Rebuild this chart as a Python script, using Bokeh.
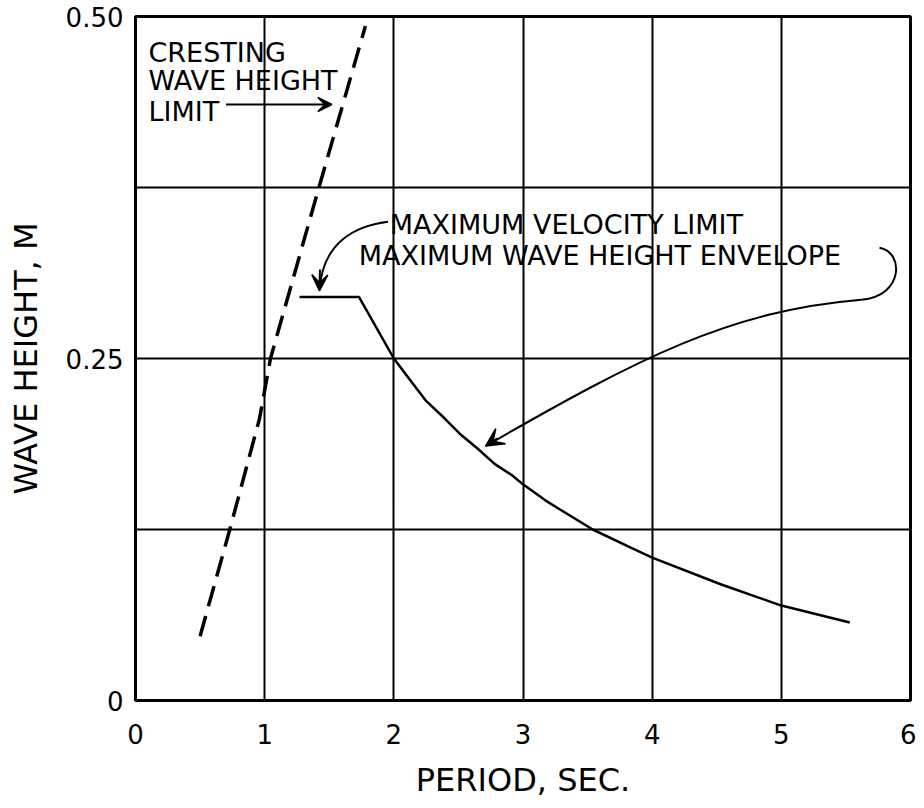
from bokeh.plotting import figure
from bokeh.models import Range1d, FixedTicker, Label, Arrow, VeeHead
from bokeh.embed import file_html
from bokeh.resources import INLINE

# ---- data ----
envelope_period = [1.27, 1.73, 2.0, 2.12, 2.25, 2.39, 2.51, 2.65, 2.78, 2.91, 3.0,
                   3.17, 3.28, 3.54, 3.83, 4.0, 4.53, 5.0, 5.53]
envelope_height = [0.295, 0.295, 0.250, 0.235, 0.219, 0.2065, 0.195, 0.184, 0.173, 0.165, 0.158,
                   0.1465, 0.140, 0.125, 0.112, 0.1045, 0.085, 0.0694, 0.057]

cresting_period = [0.50, 0.73, 0.96, 1.045, 1.42, 1.78]
cresting_height = [0.047, 0.125, 0.206, 0.25, 0.375, 0.493]

x_ticks = [0, 1, 2, 3, 4, 5, 6]
y_ticks = [0, 0.25, 0.5]
y_tick_labels = ["0", "0.25", "0.50"]
x_grid = [1, 2, 3, 4, 5]
y_grid = [0.125, 0.25, 0.375]

# annotation texts and anchors (left / alphabetic baseline)
crest_lines = ["CRESTING", "WAVE HEIGHT", "LIMIT"]
crest_x = [0.1005, 0.1005, 0.1005]
crest_y = [0.4737, 0.4532, 0.4306]
crest_arrow = dict(x_start=0.70, y_start=0.4357, x_end=1.52, y_end=0.4357)

env_lines = ["MAXIMUM VELOCITY LIMIT", "MAXIMUM WAVE HEIGHT ENVELOPE"]
env_x = [1.969, 1.729]
env_y = [0.348, 0.3255]

# curved leader for the velocity limit (single cubic)
vel_bez = dict(x0=[1.955], y0=[0.350], cx0=[1.70], cy0=[0.347],
               cx1=[1.45], cy1=[0.335], x1=[1.424], y1=[0.300])
vel_head = dict(x_start=1.428, y_start=0.315, x_end=1.424, y_end=0.2995)

# curved leader for the envelope (two cubics)
env_bez = dict(x0=[5.76, 5.62], y0=[0.331, 0.293],
               cx0=[5.95, 4.60], cy0=[0.328, 0.285],
               cx1=[5.95, 3.90], cy1=[0.2955, 0.2505],
               x1=[5.62, 2.71], y1=[0.293, 0.186])
env_head = dict(x_start=2.80, y_start=0.1915, x_end=2.71, y_end=0.186)

FONT = "DejaVu Sans"
ANN_SIZE = "27px"
FW, FH = 775, 684
XPX = FW / 6.0      # pixels per second

p = figure(frame_width=FW, frame_height=FH,
           min_border_left=135, min_border_right=6,
           min_border_top=16, min_border_bottom=98,
           x_range=Range1d(0, 6), y_range=Range1d(0, 0.5),
           x_axis_label="PERIOD, SEC.", y_axis_label="WAVE HEIGHT, M",
           output_backend="svg", toolbar_location=None)

p.outline_line_color = "black"
p.outline_line_width = 3
p.background_fill_color = "white"
p.border_fill_color = "white"

for ax in (p.xaxis[0], p.yaxis[0]):
    ax.axis_line_color = None
    ax.major_tick_in = 0
    ax.major_tick_out = 0
    ax.minor_tick_in = 0
    ax.minor_tick_out = 0
    ax.major_label_text_font = FONT
    ax.major_label_text_font_size = "26px"
    ax.major_label_text_color = "black"
    ax.axis_label_text_font = FONT
    ax.axis_label_text_font_size = "32px"
    ax.axis_label_text_font_style = "normal"
    ax.axis_label_text_color = "black"

p.xaxis.ticker = FixedTicker(ticks=x_ticks)
p.yaxis.ticker = FixedTicker(ticks=y_ticks)
p.yaxis.major_label_overrides = {t: s for t, s in zip(y_ticks, y_tick_labels)}
p.xaxis.major_label_standoff = 23
p.xaxis.axis_label_standoff = 14
p.yaxis.major_label_standoff = 12
p.yaxis.axis_label_standoff = 18

p.xgrid.ticker = FixedTicker(ticks=x_grid)
p.ygrid.ticker = FixedTicker(ticks=y_grid)
for g in (p.xgrid[0], p.ygrid[0]):
    g.grid_line_color = "black"
    g.grid_line_width = 2
    g.grid_line_alpha = 1.0


def backing(text, x, y, pad):
    # invisible copy of the text whose white box interrupts the grid lines
    return Label(x=x - pad / XPX, y=y, text=text, text_font=FONT,
                 text_font_size=ANN_SIZE, text_alpha=0.0, text_baseline="alphabetic",
                 text_align="left", background_fill_color="white", padding=pad)


def words(text, x, y):
    return Label(x=x, y=y, text=text, text_font=FONT, text_font_size=ANN_SIZE,
                 text_color="black", text_baseline="alphabetic", text_align="left")


for t, xx, yy in zip(crest_lines, crest_x, crest_y):
    p.add_layout(backing(t, xx, yy, 5))
for t, xx, yy in zip(env_lines, env_x, env_y):
    p.add_layout(backing(t, xx, yy, 9))
for t, xx, yy in zip(crest_lines + env_lines, crest_x + env_x, crest_y + env_y):
    p.add_layout(words(t, xx, yy))

# curves
p.line(cresting_period, cresting_height, line_color="black", line_width=3.5,
       line_dash="21 10", level="overlay")
p.line(envelope_period, envelope_height, line_color="black", line_width=2.5,
       line_join="round", level="overlay")

# leaders
p.bezier(line_color="black", line_width=2, level="overlay", **vel_bez)
p.bezier(line_color="black", line_width=2, level="overlay", **env_bez)

p.add_layout(Arrow(line_color="black", line_width=2,
                   end=VeeHead(size=14, line_color="black", fill_color="black", line_width=1.5),
                   **crest_arrow))
p.add_layout(Arrow(line_color="black", line_width=2,
                   end=VeeHead(size=16, line_color="black", fill_color="black", line_width=1.5),
                   **vel_head))
p.add_layout(Arrow(line_color="black", line_width=2,
                   end=VeeHead(size=18, line_color="black", fill_color="black", line_width=1.5),
                   **env_head))

open("out.html", "w").write(file_html(p, INLINE))
